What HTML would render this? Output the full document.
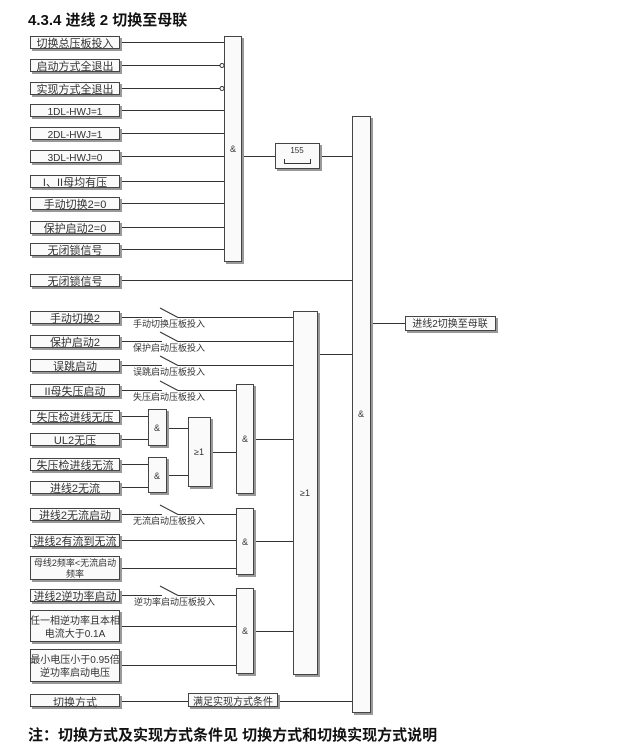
<!DOCTYPE html>
<html><head><meta charset="utf-8"><style>
html,body{margin:0;padding:0;background:#fff;}
svg{display:block;}
text{font-family:"Liberation Sans","Noto Sans CJK SC",sans-serif;fill:#333;}
.b{fill:#fafafa;stroke:#444;stroke-width:1;}
.s{fill:#999;}
.l{stroke:#333;stroke-width:1;fill:none;}
.t{font-size:11px;text-anchor:middle;font-family:"Noto Serif CJK SC","Noto Sans CJK SC",serif;fill:#555;}
.sm{font-size:9px;font-family:"Noto Serif CJK SC","Noto Sans CJK SC",serif;fill:#444;}
.g{font-size:9px;text-anchor:middle;fill:#222;}
</style></head><body>
<svg width="636" height="756" viewBox="0 0 636 756" xmlns="http://www.w3.org/2000/svg">
<text x="28" y="25" style="font-size:15px;font-weight:bold;fill:#111;">4.3.4 进线 2 切换至母联</text>

<g class="l">
<line x1="120" y1="42.5" x2="224" y2="42.5"/>
<line x1="120" y1="65.5" x2="220" y2="65.5"/>
<line x1="120" y1="88.5" x2="220" y2="88.5"/>
<line x1="120" y1="110.5" x2="224" y2="110.5"/>
<line x1="120" y1="133.5" x2="224" y2="133.5"/>
<line x1="120" y1="156.5" x2="224" y2="156.5"/>
<line x1="120" y1="181.5" x2="224" y2="181.5"/>
<line x1="120" y1="203.5" x2="224" y2="203.5"/>
<line x1="120" y1="227.5" x2="224" y2="227.5"/>
<line x1="120" y1="249.5" x2="224" y2="249.5"/>
<line x1="242" y1="156.5" x2="275" y2="156.5"/>
<line x1="320" y1="156.5" x2="352" y2="156.5"/>
<line x1="120" y1="280.5" x2="352" y2="280.5"/>
<line x1="371" y1="323.5" x2="405" y2="323.5"/>
<line x1="120" y1="317.5" x2="162" y2="317.5"/><line x1="160" y1="308" x2="178" y2="317.5"/><line x1="178" y1="317.5" x2="293" y2="317.5"/>
<line x1="120" y1="341.5" x2="162" y2="341.5"/><line x1="160" y1="332" x2="178" y2="341.5"/><line x1="178" y1="341.5" x2="293" y2="341.5"/>
<line x1="120" y1="365.5" x2="162" y2="365.5"/><line x1="160" y1="356" x2="178" y2="365.5"/><line x1="178" y1="365.5" x2="293" y2="365.5"/>
<line x1="120" y1="390.5" x2="162" y2="390.5"/><line x1="160" y1="381" x2="178" y2="390.5"/><line x1="178" y1="390.5" x2="236" y2="390.5"/>
<line x1="120" y1="416.5" x2="148" y2="416.5"/>
<line x1="120" y1="439.5" x2="148" y2="439.5"/>
<line x1="120" y1="464.5" x2="148" y2="464.5"/>
<line x1="120" y1="487.5" x2="148" y2="487.5"/>
<line x1="167" y1="428.5" x2="188" y2="428.5"/>
<line x1="167" y1="475.5" x2="188" y2="475.5"/>
<line x1="211" y1="452.5" x2="236" y2="452.5"/>
<line x1="254" y1="439.5" x2="293" y2="439.5"/>
<line x1="318" y1="354.5" x2="352" y2="354.5"/>
<line x1="120" y1="514.5" x2="162" y2="514.5"/><line x1="160" y1="505" x2="178" y2="514.5"/><line x1="178" y1="514.5" x2="236" y2="514.5"/>
<line x1="120" y1="540.5" x2="236" y2="540.5"/>
<line x1="120" y1="568.5" x2="236" y2="568.5"/>
<line x1="254" y1="541.5" x2="293" y2="541.5"/>
<line x1="120" y1="595.5" x2="162" y2="595.5"/><line x1="160" y1="586" x2="178" y2="595.5"/><line x1="178" y1="595.5" x2="236" y2="595.5"/>
<line x1="120" y1="626.5" x2="236" y2="626.5"/>
<line x1="120" y1="665.5" x2="236" y2="665.5"/>
<line x1="254" y1="631.5" x2="293" y2="631.5"/>
<line x1="120" y1="701.5" x2="188" y2="701.5"/>
<line x1="278" y1="701.5" x2="352" y2="701.5"/>
</g>
<circle cx="222" cy="65.5" r="2" fill="#fff" stroke="#333"/>
<circle cx="222" cy="88.5" r="2" fill="#fff" stroke="#333"/>

<g>
<rect class="s" x="32" y="38" width="90" height="13"/><rect class="b" x="30.5" y="36.5" width="89" height="12"/>
<rect class="s" x="32" y="61" width="90" height="13"/><rect class="b" x="30.5" y="59.5" width="89" height="12"/>
<rect class="s" x="32" y="84" width="90" height="13"/><rect class="b" x="30.5" y="82.5" width="89" height="12"/>
<rect class="s" x="32" y="106" width="90" height="13"/><rect class="b" x="30.5" y="104.5" width="89" height="12"/>
<rect class="s" x="32" y="129" width="90" height="13"/><rect class="b" x="30.5" y="127.5" width="89" height="12"/>
<rect class="s" x="32" y="152" width="90" height="13"/><rect class="b" x="30.5" y="150.5" width="89" height="12"/>
<rect class="s" x="32" y="177" width="90" height="13"/><rect class="b" x="30.5" y="175.5" width="89" height="12"/>
<rect class="s" x="32" y="199" width="90" height="13"/><rect class="b" x="30.5" y="197.5" width="89" height="12"/>
<rect class="s" x="32" y="223" width="90" height="13"/><rect class="b" x="30.5" y="221.5" width="89" height="12"/>
<rect class="s" x="32" y="245" width="90" height="13"/><rect class="b" x="30.5" y="243.5" width="89" height="12"/>
<rect class="s" x="32" y="276" width="90" height="13"/><rect class="b" x="30.5" y="274.5" width="89" height="12"/>
<rect class="s" x="32" y="313" width="90" height="13"/><rect class="b" x="30.5" y="311.5" width="89" height="12"/>
<rect class="s" x="32" y="337" width="90" height="13"/><rect class="b" x="30.5" y="335.5" width="89" height="12"/>
<rect class="s" x="32" y="361" width="90" height="13"/><rect class="b" x="30.5" y="359.5" width="89" height="12"/>
<rect class="s" x="32" y="386" width="90" height="13"/><rect class="b" x="30.5" y="384.5" width="89" height="12"/>
<rect class="s" x="32" y="412" width="90" height="13"/><rect class="b" x="30.5" y="410.5" width="89" height="12"/>
<rect class="s" x="32" y="435" width="90" height="13"/><rect class="b" x="30.5" y="433.5" width="89" height="12"/>
<rect class="s" x="32" y="460" width="90" height="13"/><rect class="b" x="30.5" y="458.5" width="89" height="12"/>
<rect class="s" x="32" y="483" width="90" height="13"/><rect class="b" x="30.5" y="481.5" width="89" height="12"/>
<rect class="s" x="32" y="510" width="90" height="13"/><rect class="b" x="30.5" y="508.5" width="89" height="12"/>
<rect class="s" x="32" y="536" width="90" height="13"/><rect class="b" x="30.5" y="534.5" width="89" height="12"/>
<rect class="s" x="32" y="558" width="90" height="24"/><rect class="b" x="30.5" y="556.5" width="89" height="23"/>
<rect class="s" x="32" y="591" width="90" height="13"/><rect class="b" x="30.5" y="589.5" width="89" height="12"/>
<rect class="s" x="32" y="612" width="90" height="32"/><rect class="b" x="30.5" y="610.5" width="89" height="31"/>
<rect class="s" x="32" y="651" width="90" height="33"/><rect class="b" x="30.5" y="649.5" width="89" height="32"/>
<rect class="s" x="32" y="696" width="90" height="13"/><rect class="b" x="30.5" y="694.5" width="89" height="12"/>
<rect class="s" x="190" y="695" width="90" height="14"/><rect class="b" x="188.5" y="693.5" width="89" height="13"/>
<rect class="s" x="407" y="318" width="91" height="15"/><rect class="b" x="405.5" y="316.5" width="90" height="14"/>
</g>
<g class="t">
<text x="75" y="47">切换总压板投入</text>
<text x="75" y="70">启动方式全退出</text>
<text x="75" y="93">实现方式全退出</text>
<text x="75" y="115" style="font-family:'Liberation Sans',sans-serif;font-size:10px">1DL-HWJ=1</text>
<text x="75" y="138" style="font-family:'Liberation Sans',sans-serif;font-size:10px">2DL-HWJ=1</text>
<text x="75" y="161" style="font-family:'Liberation Sans',sans-serif;font-size:10px">3DL-HWJ=0</text>
<text x="75" y="186">I、II母均有压</text>
<text x="75" y="208">手动切换2=0</text>
<text x="75" y="232">保护启动2=0</text>
<text x="75" y="254">无闭锁信号</text>
<text x="75" y="285">无闭锁信号</text>
<text x="75" y="322">手动切换2</text>
<text x="75" y="346">保护启动2</text>
<text x="75" y="370">误跳启动</text>
<text x="75" y="395">II母失压启动</text>
<text x="75" y="421">失压检进线无压</text>
<text x="75" y="444">UL2无压</text>
<text x="75" y="469">失压检进线无流</text>
<text x="75" y="492">进线2无流</text>
<text x="75" y="519">进线2无流启动</text>
<text x="75" y="545">进线2有流到无流</text>
<text x="75" y="566" style="font-size:9px">母线2频率&lt;无流启动</text>
<text x="75" y="577" style="font-size:9px">频率</text>
<text x="75" y="600">进线2逆功率启动</text>
<text x="75" y="624" style="font-size:10px">任一相逆功率且本相</text>
<text x="75" y="637" style="font-size:10px">电流大于0.1A</text>
<text x="75" y="663" style="font-size:10px">最小电压小于0.95倍</text>
<text x="75" y="676" style="font-size:10px">逆功率启动电压</text>
<text x="75" y="706">切换方式</text>
<text x="233" y="705" style="font-size:10px">满足实现方式条件</text>
<text x="450" y="327" style="font-size:10px">进线2切换至母联</text>
</g>
<g class="sm">
<text x="133" y="327">手动切换压板投入</text>
<text x="133" y="351">保护启动压板投入</text>
<text x="133" y="375">误跳启动压板投入</text>
<text x="133" y="400">失压启动压板投入</text>
<text x="133" y="524">无流启动压板投入</text>
<text x="134" y="605">逆功率启动压板投入</text>
</g>

<g>
<rect class="s" x="226" y="38" width="18" height="226"/><rect class="b" x="224.5" y="36.5" width="17" height="225"/>
<rect class="s" x="277" y="145" width="45" height="26"/><rect class="b" x="275.5" y="143.5" width="44" height="25"/>
<rect class="s" x="354" y="118" width="19" height="597"/><rect class="b" x="352.5" y="116.5" width="18" height="596"/>
<rect class="s" x="295" y="313" width="25" height="364"/><rect class="b" x="293.5" y="311.5" width="24" height="363"/>
<rect class="s" x="238" y="386" width="18" height="110"/><rect class="b" x="236.5" y="384.5" width="17" height="109"/>
<rect class="s" x="150" y="411" width="19" height="37"/><rect class="b" x="148.5" y="409.5" width="18" height="36"/>
<rect class="s" x="150" y="459" width="19" height="36"/><rect class="b" x="148.5" y="457.5" width="18" height="35"/>
<rect class="s" x="190" y="419" width="23" height="70"/><rect class="b" x="188.5" y="417.5" width="22" height="69"/>
<rect class="s" x="238" y="510" width="18" height="67"/><rect class="b" x="236.5" y="508.5" width="17" height="66"/>
<rect class="s" x="238" y="590" width="18" height="86"/><rect class="b" x="236.5" y="588.5" width="17" height="85"/>
</g>
<path d="M284.5 159 V163.5 H310.5 V159" class="l"/>
<g class="g">
<text x="233" y="152">&amp;</text>
<text x="297" y="153" style="font-size:8px">155</text>
<text x="361" y="417">&amp;</text>
<text x="305" y="496">≥1</text>
<text x="245" y="442">&amp;</text>
<text x="157" y="431">&amp;</text>
<text x="157" y="479">&amp;</text>
<text x="199" y="455">≥1</text>
<text x="245" y="545">&amp;</text>
<text x="245" y="634">&amp;</text>
</g>

<text x="28" y="740" style="font-size:15px;font-weight:bold;fill:#111;">注：切换方式及实现方式条件见 切换方式和切换实现方式说明</text>
</svg>
</body></html>
